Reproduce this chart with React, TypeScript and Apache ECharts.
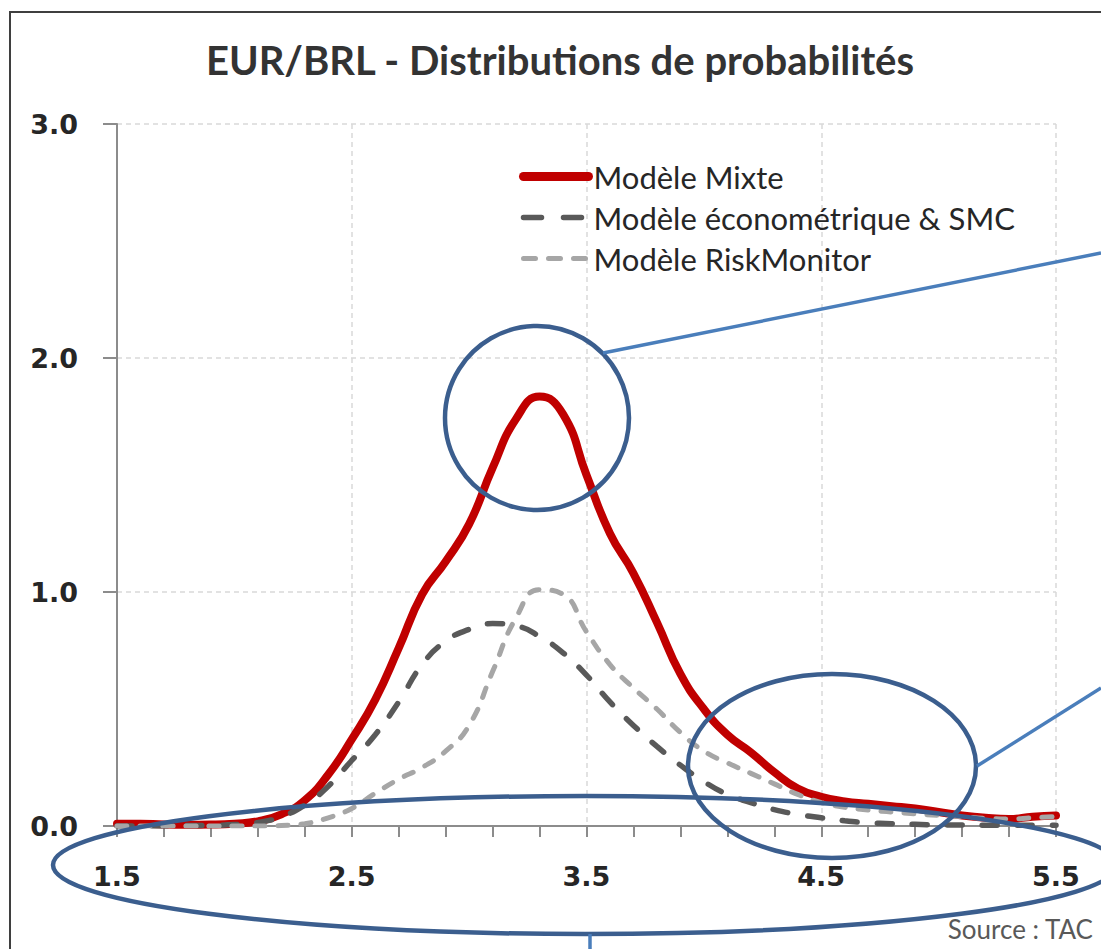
import React, { useEffect, useRef } from "react";
import * as echarts from "echarts";

const TITLE = "EUR/BRL - Distributions de probabilités";
const SOURCE = "Source : TAC";

const xCategories = [
  "1.5", "1.6", "1.7", "1.8", "1.9", "2.0", "2.1", "2.2", "2.3", "2.4",
  "2.5", "2.6", "2.7", "2.8", "2.9", "3.0", "3.1", "3.2", "3.3", "3.4",
  "3.5", "3.6", "3.7", "3.8", "3.9", "4.0", "4.1", "4.2", "4.3", "4.4",
  "4.5", "4.6", "4.7", "4.8", "4.9", "5.0", "5.1", "5.2", "5.3", "5.4",
  "5.5",
];

const seriesNames = [
  "Modèle Mixte",
  "Modèle économétrique & SMC",
  "Modèle RiskMonitor",
];

const mixte = [
  0.01, 0.01, 0.006, 0.005, 0.006, 0.01, 0.02, 0.05, 0.11, 0.22,
  0.37, 0.54, 0.76, 0.99, 1.13, 1.29, 1.53, 1.74, 1.835, 1.76,
  1.5, 1.25, 1.08, 0.87, 0.65, 0.5, 0.39, 0.315, 0.23, 0.16,
  0.125, 0.105, 0.095, 0.085, 0.075, 0.06, 0.045, 0.035, 0.03, 0.04,
  0.045,
];

const econometrique = [
  0, 0, 0, 0.002, 0.003, 0.006, 0.015, 0.04, 0.09, 0.17,
  0.28, 0.39, 0.53, 0.69, 0.79, 0.84, 0.865, 0.855, 0.81, 0.74,
  0.645, 0.53, 0.43, 0.34, 0.26, 0.19, 0.135, 0.1, 0.07, 0.05,
  0.035, 0.022, 0.014, 0.01, 0.007, 0.005, 0.004, 0.003, 0.003, 0.003,
  0.003,
];

const riskMonitor = [
  0, 0, 0, 0, 0, 0, 0, 0.002, 0.01, 0.035,
  0.075, 0.14, 0.2, 0.25, 0.32, 0.43, 0.66, 0.89, 1.01, 0.99,
  0.83, 0.69, 0.59, 0.5, 0.4, 0.32, 0.27, 0.225, 0.18, 0.135,
  0.1, 0.08, 0.068, 0.06, 0.052, 0.045, 0.04, 0.033, 0.03, 0.035,
  0.04,
];

const yMin = 0;
const yMax = 3;
const yStep = 1;

const RED = "#C00000";
const DARK = "#595959";
const LIGHT = "#A6A6A6";
const NAVY = "#3B5E8E";
const BLUE = "#4A7EBB";

export default function App() {
  const ref = useRef<HTMLDivElement>(null);

  useEffect(() => {
    if (!ref.current) return;
    const chart = echarts.init(ref.current, null, { renderer: "svg" });

    const axisColor = "#8C8C8C";
    const labelFont = {
      fontFamily: "DejaVu Sans",
      fontWeight: "bold" as const,
      fontSize: 27,
      color: "#262626",
    };

    chart.setOption({
      animation: false,
      backgroundColor: "#ffffff",
      grid: {
        left: 117,
        right: 45,
        top: 124,
        bottom: 123,
        containLabel: false,
        outerBoundsMode: "none",
      },
      legend: {
        orient: "vertical",
        left: 514,
        top: 156,
        padding: 5,
        itemWidth: 65,
        itemHeight: 12,
        itemGap: 10,
        selectedMode: false,
        itemStyle: { opacity: 0 },
        textStyle: { fontFamily: "Lato", fontSize: 31, color: "#262626" },
        data: [
          { name: seriesNames[0], lineStyle: { width: 9, color: RED, type: "solid", cap: "round" } },
          { name: seriesNames[1], lineStyle: { width: 5.5, color: DARK, type: [18, 22], cap: "round" } },
          { name: seriesNames[2], lineStyle: { width: 5, color: LIGHT, type: [12, 13], cap: "round" } },
        ],
      },
      xAxis: {
        type: "category",
        data: xCategories,
        boundaryGap: false,
        axisLine: { show: true, lineStyle: { color: axisColor, width: 2 } },
        axisTick: {
          show: true,
          interval: 1,
          length: 11,
          lineStyle: { color: axisColor, width: 2 },
        },
        axisLabel: { interval: 9, margin: 37, ...labelFont },
        splitLine: {
          show: true,
          interval: 9,
          lineStyle: { color: "#D9D9D9", type: [5, 4], width: 1.5 },
        },
      },
      yAxis: {
        type: "value",
        min: yMin,
        max: yMax,
        interval: yStep,
        axisLine: { show: true, lineStyle: { color: axisColor, width: 2 } },
        axisTick: { show: true, length: 14, lineStyle: { color: axisColor, width: 2 } },
        axisLabel: {
          margin: 39,
          formatter: (v: number) => v.toFixed(1),
          ...labelFont,
        },
        splitLine: {
          show: true,
          lineStyle: { color: "#D9D9D9", type: [5, 4], width: 1.5 },
        },
      },
      series: [
        {
          name: seriesNames[0],
          type: "line",
          data: mixte,
          smooth: 0.5,
          symbol: "none",
          lineStyle: { color: RED, width: 8, cap: "round", join: "round" },
          itemStyle: { color: RED },
          z: 2,
        },
        {
          name: seriesNames[1],
          type: "line",
          data: econometrique,
          smooth: 0.5,
          symbol: "none",
          lineStyle: { color: DARK, width: 5.5, type: [15, 20], cap: "round" },
          itemStyle: { color: DARK },
          z: 3,
        },
        {
          name: seriesNames[2],
          type: "line",
          data: riskMonitor,
          smooth: 0.5,
          symbol: "none",
          lineStyle: { color: LIGHT, width: 5, type: [10, 13], cap: "round" },
          itemStyle: { color: LIGHT },
          z: 4,
        },
      ],
      graphic: {
        elements: [
          {
            type: "rect",
            silent: true,
            z: 0,
            shape: { x: 10, y: 12, width: 1200, height: 1000 },
            style: { fill: "none", stroke: "#3F3F3F", lineWidth: 2 },
          },
          {
            type: "text",
            silent: true,
            x: 560,
            y: 60,
            style: {
              text: TITLE,
              fontFamily: "Lato",
              fontWeight: "bold",
              fontSize: 40,
              fill: "#333333",
              align: "center",
              verticalAlign: "middle",
              textAlign: "center",
              textVerticalAlign: "middle",
            },
          },
          {
            type: "text",
            silent: true,
            x: 1093,
            y: 929,
            style: {
              text: SOURCE,
              fontFamily: "Lato",
              fontSize: 26,
              fill: "#595959",
              align: "right",
              verticalAlign: "middle",
              textAlign: "right",
              textVerticalAlign: "middle",
            },
          },
          {
            type: "circle",
            silent: true,
            z: 100,
            shape: { cx: 537, cy: 418, r: 92 },
            style: { fill: "none", stroke: NAVY, lineWidth: 4.5 },
          },
          {
            type: "ellipse",
            silent: true,
            z: 100,
            shape: { cx: 832, cy: 766, rx: 144, ry: 92 },
            style: { fill: "none", stroke: NAVY, lineWidth: 4.5 },
          },
          {
            type: "ellipse",
            silent: true,
            z: 100,
            shape: { cx: 585, cy: 865, rx: 532, ry: 69 },
            style: { fill: "none", stroke: NAVY, lineWidth: 4.5 },
          },
          {
            type: "line",
            silent: true,
            z: 100,
            shape: { x1: 603, y1: 353, x2: 1101, y2: 253 },
            style: { stroke: BLUE, lineWidth: 3.5 },
          },
          {
            type: "line",
            silent: true,
            z: 100,
            shape: { x1: 977, y1: 766, x2: 1101, y2: 688 },
            style: { stroke: BLUE, lineWidth: 3.5 },
          },
          {
            type: "line",
            silent: true,
            z: 100,
            shape: { x1: 590, y1: 934, x2: 590, y2: 949 },
            style: { stroke: BLUE, lineWidth: 3.5 },
          },
        ],
      },
    });

    return () => chart.dispose();
  }, []);

  return (
    <div
      ref={ref}
      style={{ position: "absolute", left: 0, top: 0, width: 1101, height: 949 }}
    />
  );
}
